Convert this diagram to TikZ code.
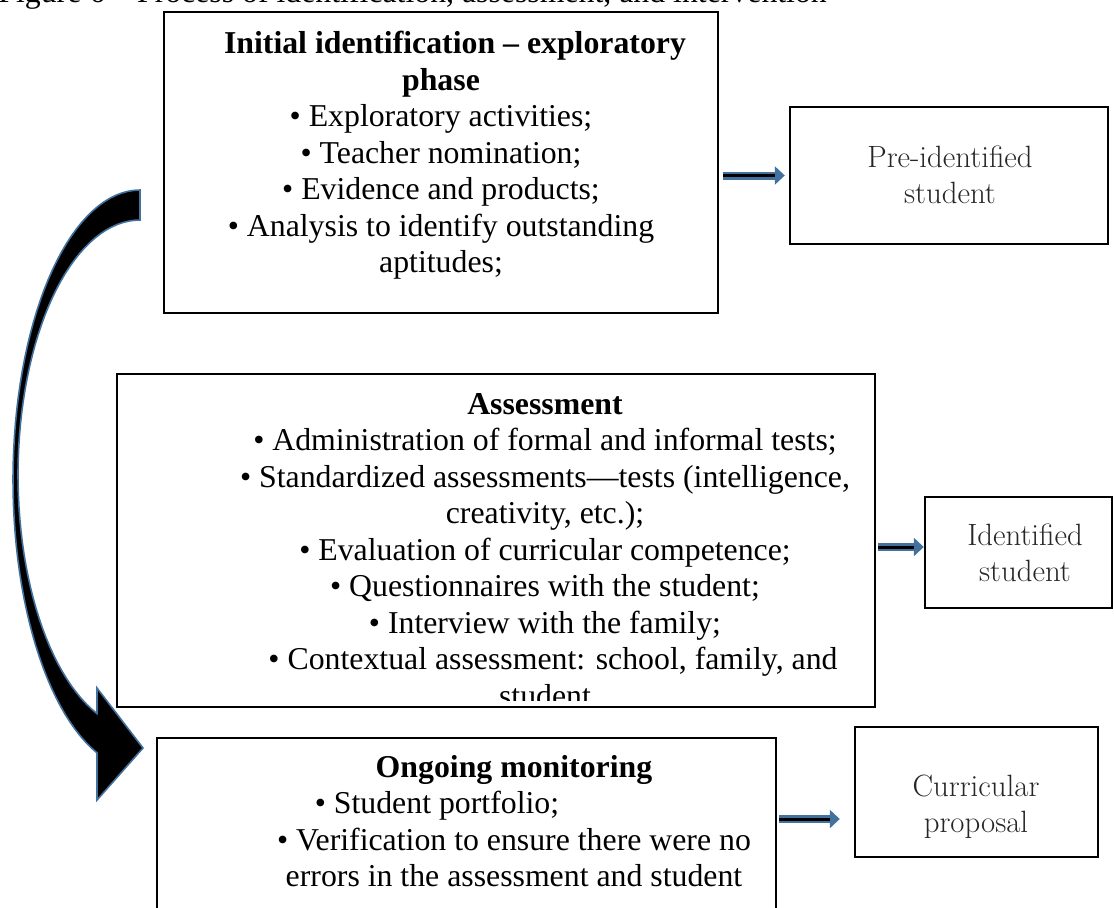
\documentclass[tikz,border=0pt]{standalone}
\usepackage{fontspec}
\newfontfamily\timesfont{Liberation Serif}
\usetikzlibrary{arrows.meta}

\definecolor{arrowblue}{HTML}{41719C}
\definecolor{labelgray}{HTML}{262626}

\tikzset{
  stagebox/.style={draw, line width=1.4pt, inner sep=0pt},
  stagetext/.style={font=\timesfont\fontsize{15.9}{18.25}\selectfont, align=center, inner sep=0pt},
  resultbox/.style={draw, line width=1.2pt, inner sep=0pt},
  resulttext/.style={font=\fontsize{15.4}{18.2}\selectfont, text=labelgray, align=center, inner sep=0pt},
  flowarrow/.style={draw=arrowblue, line width=4pt, -{Triangle[length=5pt,width=9pt]},
    postaction={draw=black, line width=1.5pt, -, shorten >=5pt}}
}

\begin{document}
\begin{tikzpicture}[x=0.5pt,y=-0.5pt]

\useasboundingbox (0,0) rectangle (1114,907);

% Caption (cut by the top edge)
\node[stagetext, anchor=base west] (title) at (-2,2) {Figure 6 – Process of identification, assessment, and intervention};

% Stage boxes
\node[stagebox, minimum width=277pt, minimum height=150.5pt] (explore) at (441,162.5) {};
\node[stagebox, minimum width=379pt, minimum height=166.5pt] (assess) at (496,540.5) {};
\node[stagebox, minimum width=309.5pt, minimum height=111pt] (ongoing) at (466.5,849) {};

% Stage texts
\node[stagetext, anchor=north] (exploretext) at (441,31) {\hspace*{14pt}\textbf{Initial identification – exploratory}\\
  \textbf{phase}\\
  • Exploratory activities;\\
  • Teacher nomination;\\
  • Evidence and products;\\
  • Analysis to identify outstanding\\
  aptitudes;};

\begin{scope}
\clip (118,375) rectangle (874,700);
\node[stagetext, anchor=north] (assesstext) at (545,393) {\textbf{Assessment}\\
  • Administration of formal and informal tests;\\
  • Standardized assessments—tests (intelligence,\\
  creativity, etc.);\\
  • Evaluation of curricular competence;\\
  • Questionnaires with the student;\\
  • Interview with the family;\\
  \hspace*{8pt}• Contextual assessment: school, family, and\\
  student};
\end{scope}

\node[stagetext, anchor=north] (ongoingtext) at (514,755) {\textbf{Ongoing monitoring}\\
  \mbox{• Student portfolio;\hspace*{77pt}}\\
  • Verification to ensure there were no\\
  errors in the assessment and student};

% Result boxes
\node[resultbox, minimum width=159pt, minimum height=68.5pt] (pre) at (949,175.5) {};
\node[resultbox, minimum width=93.5pt, minimum height=55.5pt] (ident) at (1018.5,552.5) {};
\node[resultbox, minimum width=121.5pt, minimum height=65pt] (curric) at (976.5,792) {};

\node[resulttext] (pretext) at (950,175) {Pre-identified\\student};
\node[resulttext] (identtext) at (1025,553) {Identified\\student};
\node[resulttext] (currictext) at (976,807) {Curricular\\proposal};

% Arrows to results
\draw[flowarrow] ([xshift=2pt]explore.east |- pre.west) -- ([xshift=-2pt]pre.west);
\draw[flowarrow] ([xshift=1pt,yshift=2.75pt]assess.east |- ident.west) -- ([yshift=2.75pt]ident.west);
\draw[flowarrow] ([xshift=1pt,yshift=-13.5pt]ongoing.east |- curric.west) -- ([xshift=-7pt,yshift=-13.5pt]curric.west);

% Curved return arrow
\filldraw[fill=black, draw=arrowblue, line width=0.8pt]
  plot[domain=90:250.2, samples=60] ({140+127*cos(\x)}, {480-290*sin(\x)})
  -- (97,800) -- (143,748) -- (97,688) -- (97,713.6)
  -- plot[domain=249.36:90, samples=60] ({140+122*cos(\x)}, {475-255*sin(\x)})
  -- cycle;

\end{tikzpicture}
\end{document}
